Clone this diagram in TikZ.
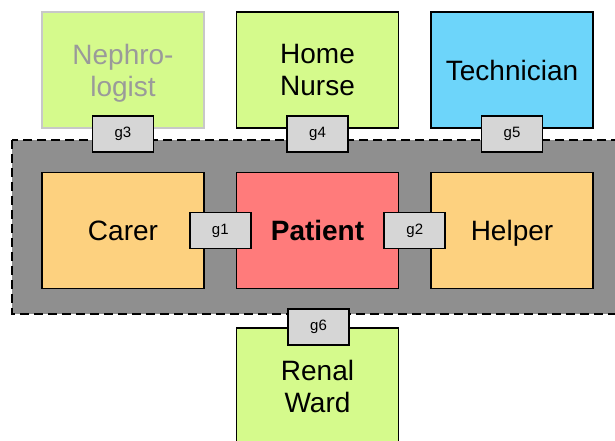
\documentclass[tikz,border=0pt]{standalone}
\usepackage{fontspec}
\setmainfont{Liberation Sans}
\usetikzlibrary{calc}
\definecolor{lime}{HTML}{D5FA8C}
\definecolor{sky}{HTML}{6DD5FA}
\definecolor{peach}{HTML}{FDD17F}
\definecolor{rose}{HTML}{FF7B7B}
\definecolor{region}{HTML}{8F8F8F}
\definecolor{gatefill}{HTML}{D6D6D6}
\definecolor{faint}{HTML}{C8C8C8}
\definecolor{fainttext}{HTML}{9A9A9A}
\begin{document}
\begin{tikzpicture}[x=1pt,y=-1pt,
  rolebox/.style={draw=black,line width=1.8pt,minimum width=162pt,minimum height=116pt,
    inner sep=0pt,align=center,font=\fontsize{28}{32}\selectfont},
  gate/.style={draw=black,line width=1.8pt,fill=gatefill,minimum width=61pt,minimum height=36pt,
    inner sep=0pt,font=\fontsize{15}{18}\selectfont},
  zone/.style={draw=black,line width=1.8pt,dash pattern=on 9pt off 5pt,fill=region}]
\useasboundingbox (0,0) rectangle (615,441);
% top row
\node[rolebox,fill=lime,draw=faint,text=fainttext] (neph) at (123,70) {Nephro-\\lo\smash{g}ist};
\node[rolebox,fill=lime] (nurse) at (317.5,70) {Home\\Nurse};
\node[rolebox,fill=sky] (tech) at (512,70) {Technician};
% region
\path[zone] (12,140) rectangle (625,314);
% middle row
\node[rolebox,fill=peach] (carer) at (123,230.5) {Carer};
\node[rolebox,fill=rose,font=\fontsize{28}{32}\selectfont\bfseries] (patient) at (317.5,230.5) {Patient};
\node[rolebox,fill=peach] (helper) at (512,230.5) {Hel\smash{p}er};
% bottom
\node[rolebox,fill=lime] (renal) at (317.5,386) {Renal\\Ward};
% gates
\node[gate] (g1) at ($(carer.east)!0.5!(patient.west)$) {g1};
\node[gate] (g2) at ($(patient.east)!0.5!(helper.west)$) {g2};
\node[gate] (g3) at (123,134) {g3};
\node[gate] (g4) at (317.5,134) {g4};
\node[gate] (g5) at (512,134) {g5};
\node[gate] (g6) at (318.5,327) {g6};
\end{tikzpicture}
\end{document}
